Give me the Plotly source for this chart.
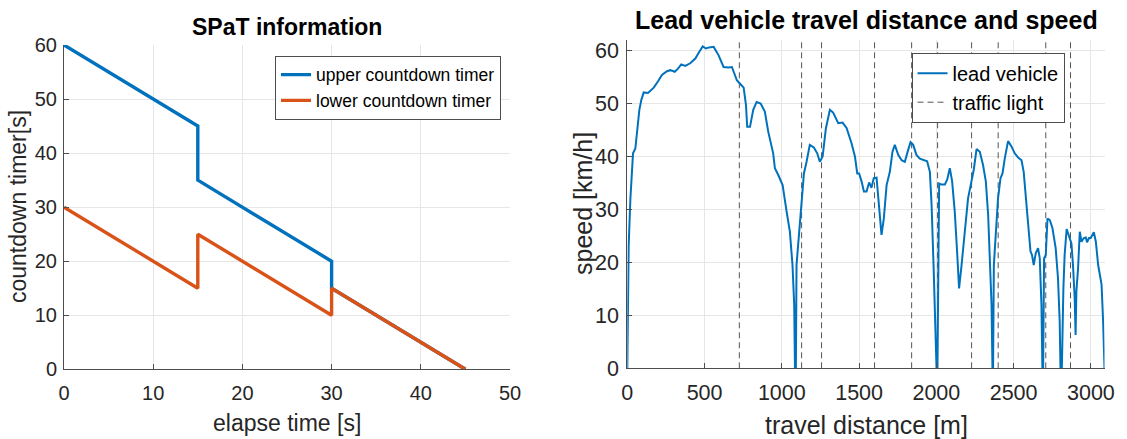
import plotly.graph_objects as go

# ---- SPaT countdown timers ----
elapse_time = [0, 15, 15, 30, 30, 45]
upper_timer = [60, 45, 35, 20, 15, 0]
lower_timer = [30, 15, 25, 10, 15, 0]

# ---- Lead vehicle speed profile ----
travel_distance = [
    0, 3, 5, 9, 20, 37, 52, 63, 78, 91, 106, 134, 171, 199, 224, 257, 278, 307, 328, 349,
    375, 407, 440, 466, 488, 509, 530, 559, 591, 623, 656, 677, 709, 737, 753, 768, 776, 794,
    815, 837, 863, 890, 912, 944, 955, 977, 1005, 1031, 1052, 1069, 1080, 1085, 1091, 1095,
    1112, 1128, 1143, 1160, 1181, 1207, 1229, 1246, 1264, 1285, 1311, 1332, 1365, 1393, 1419,
    1451, 1473, 1488, 1500, 1516, 1531, 1548, 1565, 1580, 1595, 1613, 1630, 1645, 1660, 1678,
    1699, 1716, 1731, 1753, 1775, 1796, 1817, 1833, 1850, 1871, 1893, 1919, 1940, 1958, 1969,
    1983, 1996, 2001, 2007, 2014, 2018, 2033, 2055, 2070, 2087, 2102, 2119, 2134, 2147, 2163,
    2184, 2205, 2227, 2242, 2260, 2281, 2302, 2320, 2335, 2346, 2357, 2363, 2367, 2372, 2384,
    2399, 2415, 2428, 2443, 2464, 2486, 2507, 2529, 2551, 2565, 2583, 2600, 2609, 2619, 2630,
    2643, 2658, 2669, 2680, 2686, 2691, 2697, 2708, 2719, 2734, 2751, 2772, 2787, 2798, 2803,
    2812, 2822, 2830, 2843, 2858, 2868, 2874, 2884, 2895, 2901, 2906, 2917, 2928, 2939, 2954,
    2967, 2975, 2988, 2999, 3019, 3032, 3047, 3058, 3069, 3079, 3088,
]
lead_speed = [
    0, 10, 20.8, 23.3, 32, 40.6, 41.5, 44.7, 48.8, 50.7, 52.1, 52, 53, 54.2, 55.4, 56.1, 56.3,
    56, 56.6, 57.4, 57.1, 57.6, 58.5, 59.8, 60.8, 60.4, 60.6, 60.7, 59.1, 56.9, 56.8, 56.9,
    54.4, 53.5, 53, 49.7, 45.6, 45.6, 48.8, 50.3, 50, 48.5, 44.7, 40.6, 37.8, 36.5, 34.6, 29.6,
    25.8, 19.5, 12, 0, 0, 19.5, 25.8, 32.1, 36.8, 39, 42.2, 41.7, 40.6, 39, 40, 45.3, 48.8,
    48.3, 46.3, 46.4, 45.4, 42.5, 40, 36.8, 36.8, 35.3, 33.4, 33.4, 35.1, 34.1, 35.9, 36, 30.9,
    25.2, 28.3, 34.6, 37.1, 40.9, 42.2, 40.3, 39.3, 39, 41.2, 42.7, 42.2, 40.3, 39.6, 39.3,
    39.1, 37.1, 30.9, 18.3, 5.7, 0, 0, 18.3, 34.9, 34.7, 34.7, 35.6, 37.8, 35.3, 29.6, 22.1,
    15.1, 19.5, 25.8, 32.1, 35.3, 37.5, 41.4, 40.9, 38.4, 35.3, 29, 21.4, 12, 0, 0, 19.5, 24.6,
    32.1, 35.9, 36.8, 39.7, 42.9, 41.9, 40.6, 39.8, 39.3, 37.1, 30.9, 25.8, 22.1, 21.4, 19.5,
    21.7, 22.7, 20.8, 12, 0, 0, 20.8, 21.4, 28.3, 28, 26.5, 22.7, 17, 8.9, 0, 0, 15.1, 21.4,
    26.3, 24.9, 23.9, 23.6, 19.5, 13.3, 6.3, 14.5, 18.9, 25.8, 23.9, 24.6, 24.7, 23.8, 24.6,
    24.6, 25.7, 23.9, 19.5, 17.7, 15.8, 8.9, 0,
]
traffic_lights = [725, 1128, 1257, 1600, 1840, 2008, 2228, 2400, 2708, 2868]

W, H = 1127, 439
BLUE = "#0072BD"
ORANGE = "#D95319"
GRID = "#E6E6E6"
AXIS = "#4D4D4D"
TEXT = "#262626"
FONT = "Liberation Sans, Arial, sans-serif"


def px(x):
    return x / W


def py(y):
    return 1 - y / H


fig = go.Figure()

# Left panel: countdown timers
fig.add_trace(go.Scatter(x=elapse_time, y=upper_timer, mode="lines", name="upper countdown timer",
                         line=dict(color=BLUE, width=3.4), xaxis="x", yaxis="y", legend="legend"))
fig.add_trace(go.Scatter(x=elapse_time, y=lower_timer, mode="lines", name="lower countdown timer",
                         line=dict(color=ORANGE, width=3.4), xaxis="x", yaxis="y", legend="legend"))

# Right panel: traffic light positions as vertical dashed lines
y_top = 62
tl_x, tl_y = [], []
for d in traffic_lights:
    tl_x += [d, d, None]
    tl_y += [0, y_top, None]
fig.add_trace(go.Scatter(x=tl_x, y=tl_y, mode="lines", name="traffic light",
                         line=dict(color="#555555", width=1, dash="6px,4px"),
                         xaxis="x2", yaxis="y2", legend="legend2", legendrank=2))
fig.add_trace(go.Scatter(x=travel_distance, y=lead_speed, mode="lines", name="lead vehicle",
                         line=dict(color=BLUE, width=2), xaxis="x2", yaxis="y2",
                         legend="legend2", legendrank=1))

axis_common = dict(showgrid=True, gridcolor=GRID, gridwidth=1, zeroline=False,
                   showline=True, linecolor=AXIS, linewidth=1, ticks="inside",
                   ticklen=5, tickcolor=AXIS, mirror=False, automargin=False)

fig.update_layout(
    width=W, height=H,
    margin=dict(l=0, r=0, t=0, b=0, autoexpand=False),
    paper_bgcolor="white", plot_bgcolor="white",
    font=dict(family=FONT, color=TEXT),
    xaxis=dict(axis_common, domain=[px(64), px(510)], range=[0, 50], dtick=10,
               tickfont=dict(size=20), anchor="y", ticklabelstandoff=6),
    yaxis=dict(axis_common, domain=[py(369.3), py(45)], range=[0, 60], dtick=10,
               tickfont=dict(size=20), anchor="x", ticklabelstandoff=2),
    xaxis2=dict(axis_common, domain=[px(627.3), px(1104.5)], range=[0, 3088], dtick=500,
                tickfont=dict(size=21.5), anchor="y2", ticklabelstandoff=5),
    yaxis2=dict(axis_common, domain=[py(368.3), py(40)], range=[0, y_top], dtick=10,
                tickfont=dict(size=21.5), anchor="x2", ticklabelstandoff=3),
    legend=dict(x=px(501), y=py(55.7), xanchor="right", yanchor="top",
                bgcolor="white", bordercolor=AXIS, borderwidth=1,
                font=dict(size=17.5, color="black"), tracegroupgap=0, itemwidth=30),
    legend2=dict(x=px(1064.5), y=py(52.7), xanchor="right", yanchor="top",
                 bgcolor="white", bordercolor=AXIS, borderwidth=1,
                 font=dict(size=20, color="black"), tracegroupgap=0, itemwidth=30),
    showlegend=True,
)

annotations = [
    # panel titles
    dict(text="<b>SPaT information</b>", x=px(287), y=py(27), font=dict(size=23, color="black")),
    dict(text="<b>Lead vehicle travel distance and speed</b>", x=px(866), y=py(20),
         font=dict(size=25, color="black")),
    # axis titles
    dict(text="elapse time [s]", x=px(287), y=py(423), font=dict(size=23)),
    dict(text="countdown timer[s]", x=px(18), y=py(207), textangle=-90, font=dict(size=23)),
    dict(text="travel distance [m]", x=px(866), y=py(425), font=dict(size=25)),
    dict(text="speed [km/h]", x=px(583), y=py(204), textangle=-90, font=dict(size=25)),
]
for a in annotations:
    a.update(xref="paper", yref="paper", xanchor="center", yanchor="middle", showarrow=False)
fig.update_layout(annotations=annotations)

fig.write_html("out.html")
